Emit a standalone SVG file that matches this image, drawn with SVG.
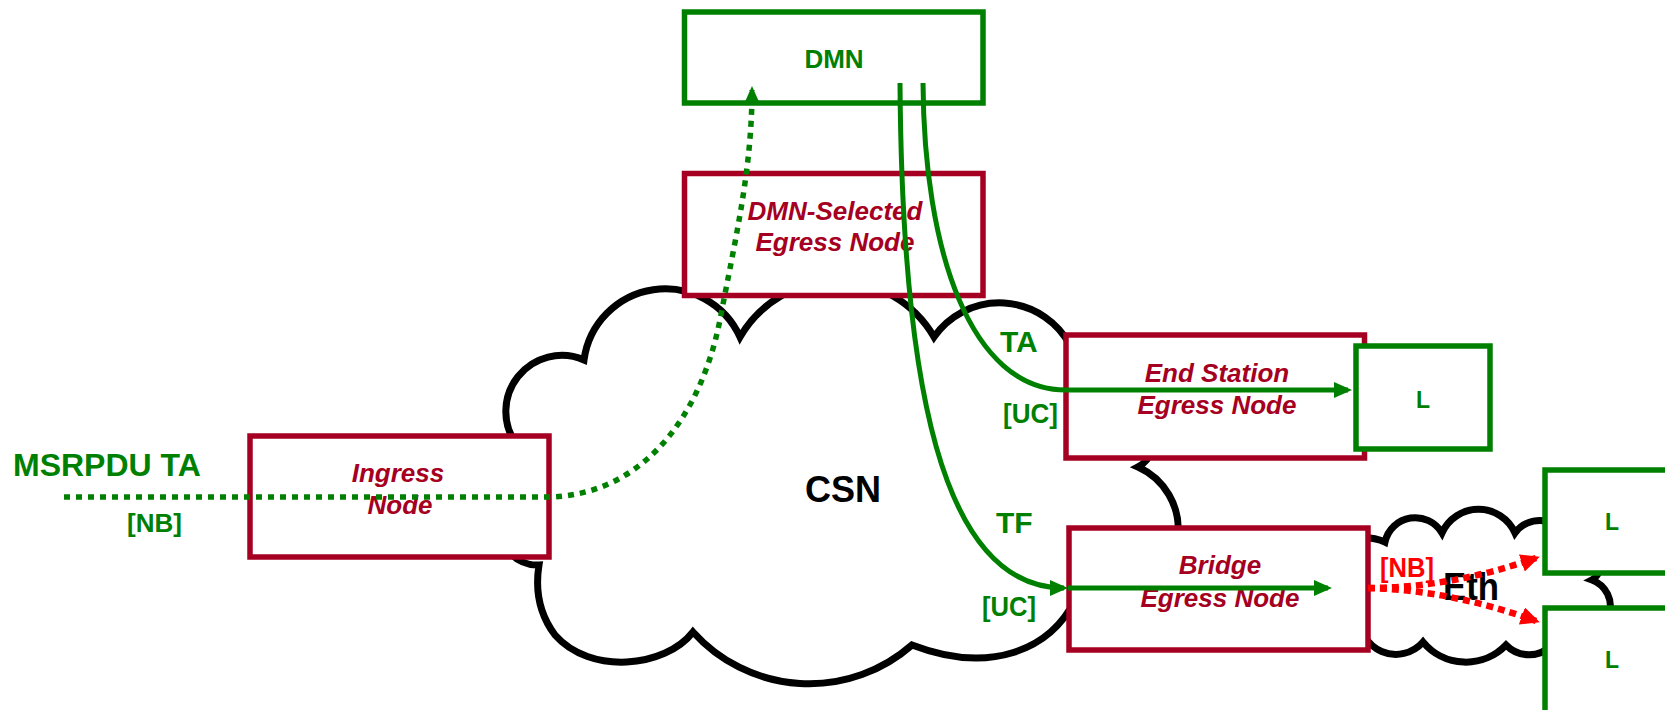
<svg xmlns="http://www.w3.org/2000/svg" width="1665" height="710" viewBox="0 0 1665 710">
<defs>
<style>
.cloud{fill:#fff;stroke:#000;stroke-width:7;stroke-linejoin:miter;stroke-miterlimit:10}
.cr rect{fill:#fff;stroke:#A50021;stroke-width:5.5}
.gr rect{fill:#fff;stroke:#008000;stroke-width:5.5}
.ct{font-family:"Liberation Sans",Arial,sans-serif;font-weight:bold;font-style:italic;font-size:26px;fill:#A50021;text-anchor:middle}
.gt{font-family:"Liberation Sans",Arial,sans-serif;font-weight:bold;fill:#008000}
.bt{font-family:"Liberation Sans",Arial,sans-serif;font-weight:bold;fill:#000}
.rt{font-family:"Liberation Sans",Arial,sans-serif;font-weight:bold;fill:#FF0000}
.gl{fill:none;stroke:#008000;stroke-width:5}
.gd{fill:none;stroke:#008000;stroke-width:5.5;stroke-dasharray:6 6}
.rd{fill:none;stroke:#FF0000;stroke-width:6.5;stroke-dasharray:7 5}
</style>
<marker id="ag" markerUnits="userSpaceOnUse" markerWidth="20" markerHeight="18" refX="14" refY="8" orient="auto">
<path d="M0,0 L18,8 L0,16 z" fill="#008000"/>
</marker>
<marker id="ar" markerUnits="userSpaceOnUse" markerWidth="22" markerHeight="20" refX="15" refY="9" orient="auto">
<path d="M0,0 L19,9 L0,18 z" fill="#FF0000"/>
</marker>
</defs>
<rect width="1665" height="710" fill="#fff"/>

<g id="csn-cloud">
<path class="cloud" d="M 517 445 A 56 56 0 0 1 584 360 A 82 82 0 0 1 740 337 A 112 112 0 0 1 934 337 A 80 80 0 0 1 1070 345 L 1152 450 Q 1148 462 1138 467 A 68 68 0 0 1 1178 535 L 1075 600 C 1050 650 990 675 912 645 A 156 156 0 0 1 693 632 C 665 668 590 675 555 635 C 540 615 535 590 539 565 Q 520 566 505 548 Z"/>
<text class="bt" x="843" y="502" font-size="36" text-anchor="middle">CSN</text>
</g>
<g id="eth-cloud">
<path class="cloud" d="M 1360 537 Q 1377 538 1385 542 A 31 31 0 0 1 1442 533 A 40 40 0 0 1 1515 533 A 30 30 0 0 1 1555 525 L 1602 565 Q 1598 577 1592 580 A 28 28 0 0 1 1609 615 L 1552 645 A 32 32 0 0 1 1506 645 A 55.6 55.6 0 0 1 1423 642 A 36 36 0 0 1 1360 615 Z"/>
<text class="bt" x="1443" y="600" font-size="38" textLength="56" lengthAdjust="spacingAndGlyphs">Eth</text>
</g>

<g id="dmn" class="gr">
<rect x="684.5" y="12" width="298.5" height="91"/>
<text class="gt" x="834" y="68" font-size="26" text-anchor="middle">DMN</text>
</g>
<g id="dmn-selected-egress" class="cr">
<rect x="684.5" y="173.5" width="298.5" height="122"/>
<text class="ct" x="835" y="220">DMN-Selected</text>
<text class="ct" x="835" y="251">Egress Node</text>
</g>
<g id="ingress" class="cr">
<rect x="250" y="436" width="299" height="121"/>
<text class="ct" x="398" y="482">Ingress</text>
<text class="ct" x="400" y="514">Node</text>
</g>
<g id="endstation-egress" class="cr">
<rect x="1066" y="335" width="298.5" height="123"/>
<text class="ct" x="1217" y="382">End Station</text>
<text class="ct" x="1217" y="414">Egress Node</text>
</g>
<g id="bridge-egress" class="cr">
<rect x="1069" y="528" width="299" height="122"/>
<text class="ct" x="1220" y="574">Bridge</text>
<text class="ct" x="1220" y="607">Egress Node</text>
</g>
<g id="listener-es" class="gr">
<rect x="1356" y="346" width="134" height="103"/>
<text class="gt" x="1423" y="408" font-size="23" text-anchor="middle">L</text>
</g>
<g id="listener-1" class="gr">
<rect x="1545" y="470" width="200" height="103"/>
<text class="gt" x="1612" y="530" font-size="23" text-anchor="middle">L</text>
</g>
<g id="listener-2" class="gr">
<rect x="1545" y="608" width="200" height="200"/>
<text class="gt" x="1612" y="668" font-size="23" text-anchor="middle">L</text>
</g>

<g id="connectors">
<path class="gd" d="M 64 497 L 545 497 C 640 497 700 420 720 320 C 735 240 752 170 752 90" marker-end="url(#ag)"/>
<path class="gl" d="M 923 83 C 924 250 970 390 1066 390 L 1348 390" marker-end="url(#ag)"/>
<path class="gl" d="M 900 83 C 902 380 940 588 1064 588" marker-end="url(#ag)"/>
<path class="gl" d="M 1068 588 L 1328 588" marker-end="url(#ag)"/>
<path class="rd" d="M 1368 588 Q 1450 588 1536 558" marker-end="url(#ar)"/>
<path class="rd" d="M 1368 588 Q 1450 590 1536 621" marker-end="url(#ar)"/>
</g>

<g id="labels">
<text class="gt" x="13" y="476" font-size="32">MSRPDU TA</text>
<text class="gt" x="127" y="532" font-size="26">[NB]</text>
<text class="gt" x="1000" y="352" font-size="30">TA</text>
<text class="gt" x="1003" y="423" font-size="28" textLength="55" lengthAdjust="spacingAndGlyphs">[UC]</text>
<text class="gt" x="996" y="533" font-size="30">TF</text>
<text class="gt" x="982" y="616" font-size="28" textLength="54" lengthAdjust="spacingAndGlyphs">[UC]</text>
<text class="rt" x="1380" y="577" font-size="28" textLength="54" lengthAdjust="spacingAndGlyphs">[NB]</text>
</g>
</svg>
